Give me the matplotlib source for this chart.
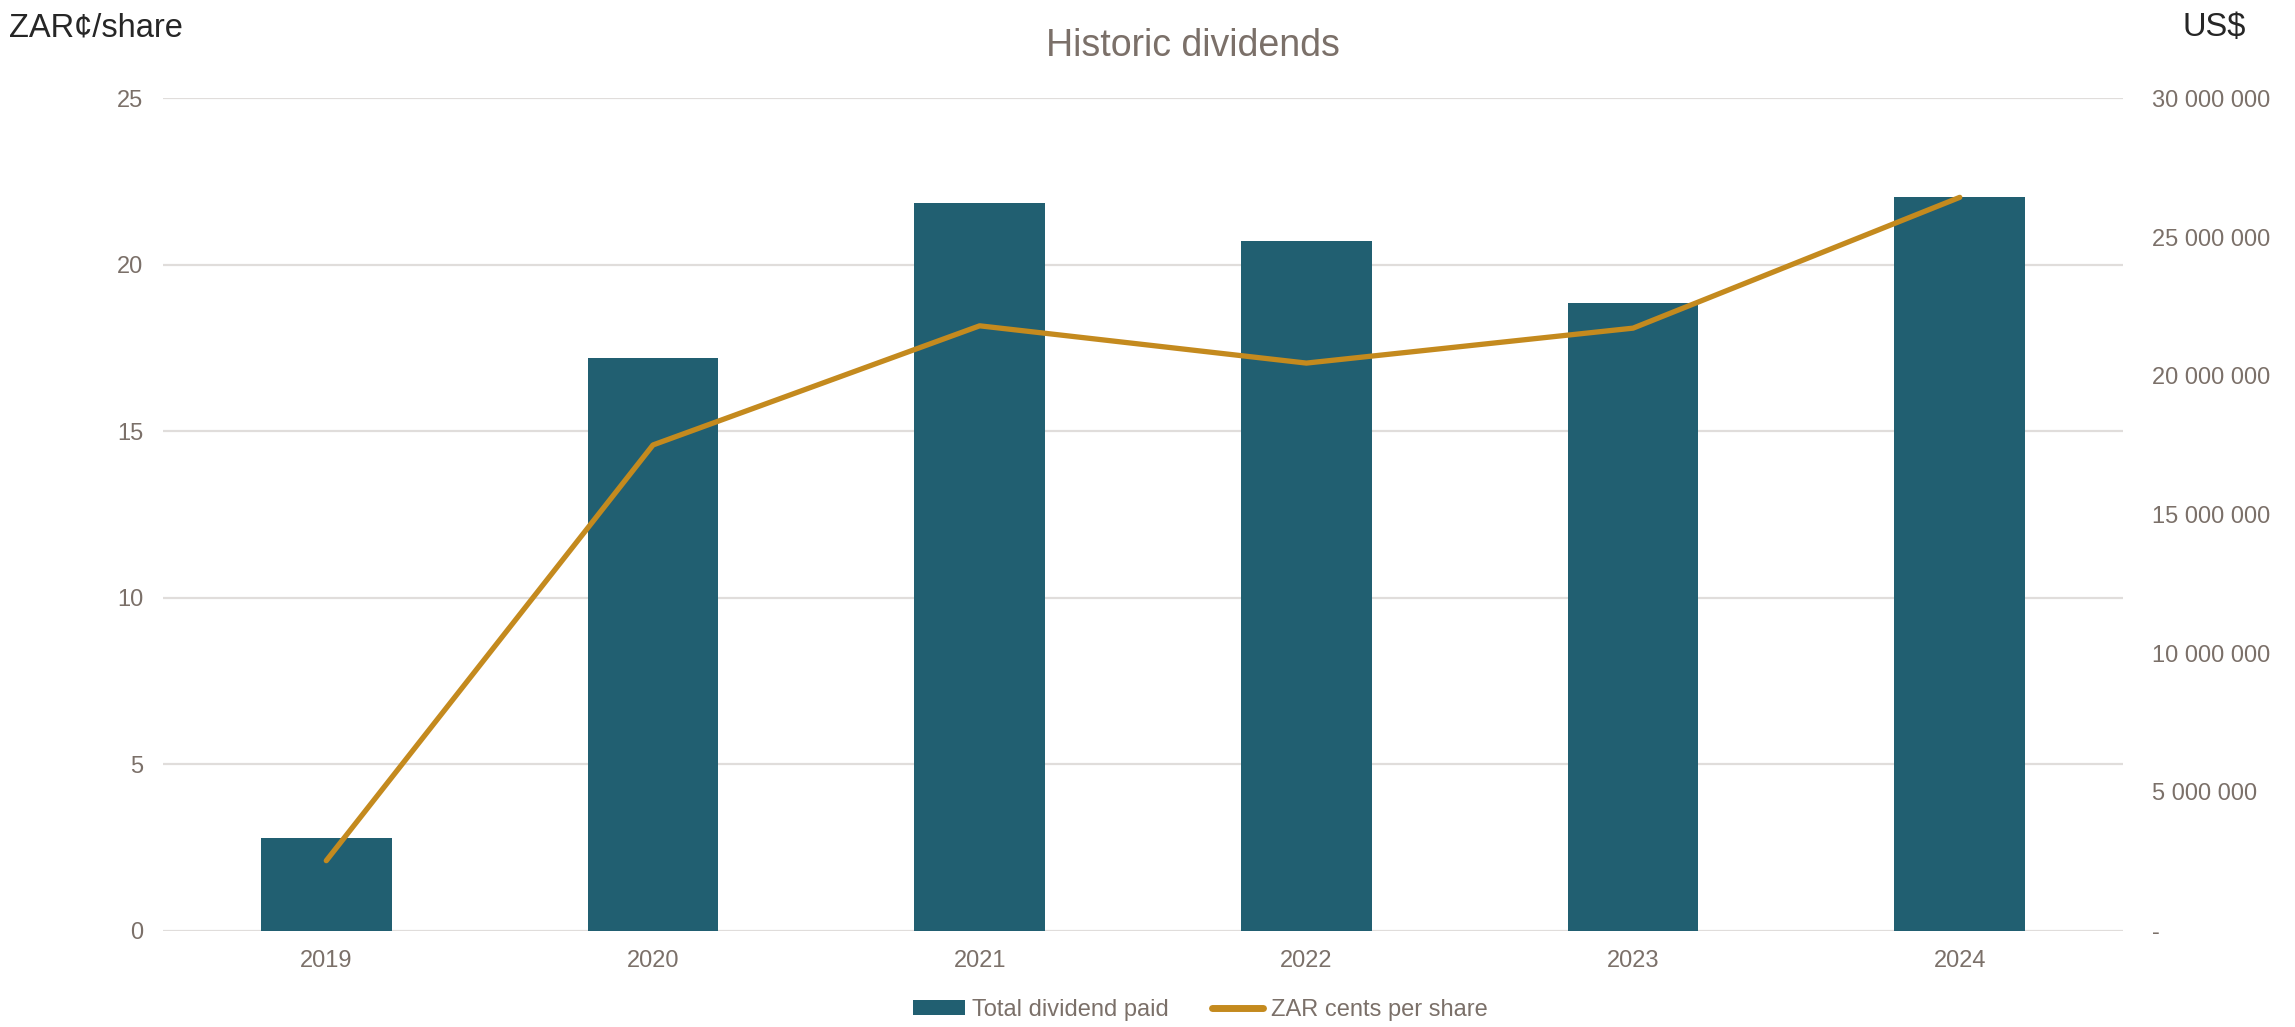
import matplotlib
matplotlib.use('Agg')
import matplotlib.pyplot as plt
from matplotlib.patches import Patch
from matplotlib.lines import Line2D
from matplotlib.ticker import FuncFormatter

plt.rcParams['font.family'] = ['Liberation Sans', 'DejaVu Sans']

# data
years = ['2019', '2020', '2021', '2022', '2023', '2024']
total_paid_usd = [3.33e6, 20.65e6, 26.23e6, 24.86e6, 22.63e6, 26.44e6]
zar_cents_per_share = [2.10, 14.59, 18.17, 17.05, 18.10, 22.03]

bar_col = '#215F71'
line_col = '#C48A1E'
txt_col = '#7B7069'
grid_col = '#E0DDDB'

fig = plt.figure(figsize=(22.95, 10.27), dpi=100)
ax_r = fig.add_axes([0.0710, 0.0939, 0.8541, 0.8102])
ax_l = ax_r.twinx()
ax_l.set_zorder(ax_r.get_zorder() + 1)
ax_l.patch.set_visible(False)

x = list(range(len(years)))

# bars on the right (US$) axis, behind the line
ax_r.bar(x, total_paid_usd, width=0.4, color=bar_col, zorder=2)
ax_r.set_ylim(0, 30e6)
ax_r.set_yticks([0, 5e6, 10e6, 15e6, 20e6, 25e6, 30e6])
ax_r.yaxis.set_major_formatter(FuncFormatter(
    lambda v, p: '-' if v == 0 else f'{int(v):,}'.replace(',', ' ')))
ax_r.yaxis.tick_right()
# gridlines follow the left axis steps (every 5 ZAR cents = 6M on this scale)
ax_r.yaxis.remove_overlapping_locs = False
ax_r.set_yticks([0, 6e6, 12e6, 18e6, 24e6, 30e6], minor=True)
ax_r.grid(axis='y', which='minor', color=grid_col, lw=1.6)
ax_r.grid(axis='y', which='major', visible=False)
ax_r.set_axisbelow(True)
ax_r.set_xticks(x)
ax_r.set_xticklabels(years)
ax_r.set_xlim(-0.5, 5.5)

# line on the left (ZAR cents) axis
ax_l.plot(x, zar_cents_per_share, color=line_col, lw=3.8, solid_capstyle='round')
ax_l.set_ylim(0, 25)
ax_l.set_yticks([0, 5, 10, 15, 20, 25])
ax_l.yaxis.tick_left()

for a in (ax_r, ax_l):
    for s in a.spines.values():
        s.set_visible(False)
    a.tick_params(axis='both', which='both', length=0, labelsize=17, colors=txt_col)
ax_r.tick_params(axis='y', pad=21)
ax_l.tick_params(axis='y', pad=14)
ax_r.tick_params(axis='x', pad=14)

fig.text(0.520, 0.955, 'Historic dividends', ha='center', va='center',
         fontsize=27, color=txt_col)
fig.text(0.004, 0.988, 'ZAR\u00a2/share', ha='left', va='top',
         fontsize=23.5, color='#262626')
fig.text(0.951, 0.988, 'US$', ha='left', va='top',
         fontsize=23.5, color='#262626')

handles = [Patch(facecolor=bar_col, label='Total dividend paid'),
           Line2D([], [], color=line_col, lw=5, solid_capstyle='round',
                  label='ZAR cents per share')]
fig.legend(handles=handles, loc='center', bbox_to_anchor=(0.523, 0.017),
           ncol=2, frameon=False, fontsize=17, handlelength=2.2,
           handleheight=0.6, handletextpad=0.3, columnspacing=1.8,
           labelcolor=txt_col)

fig.savefig('out.png', dpi=100)
